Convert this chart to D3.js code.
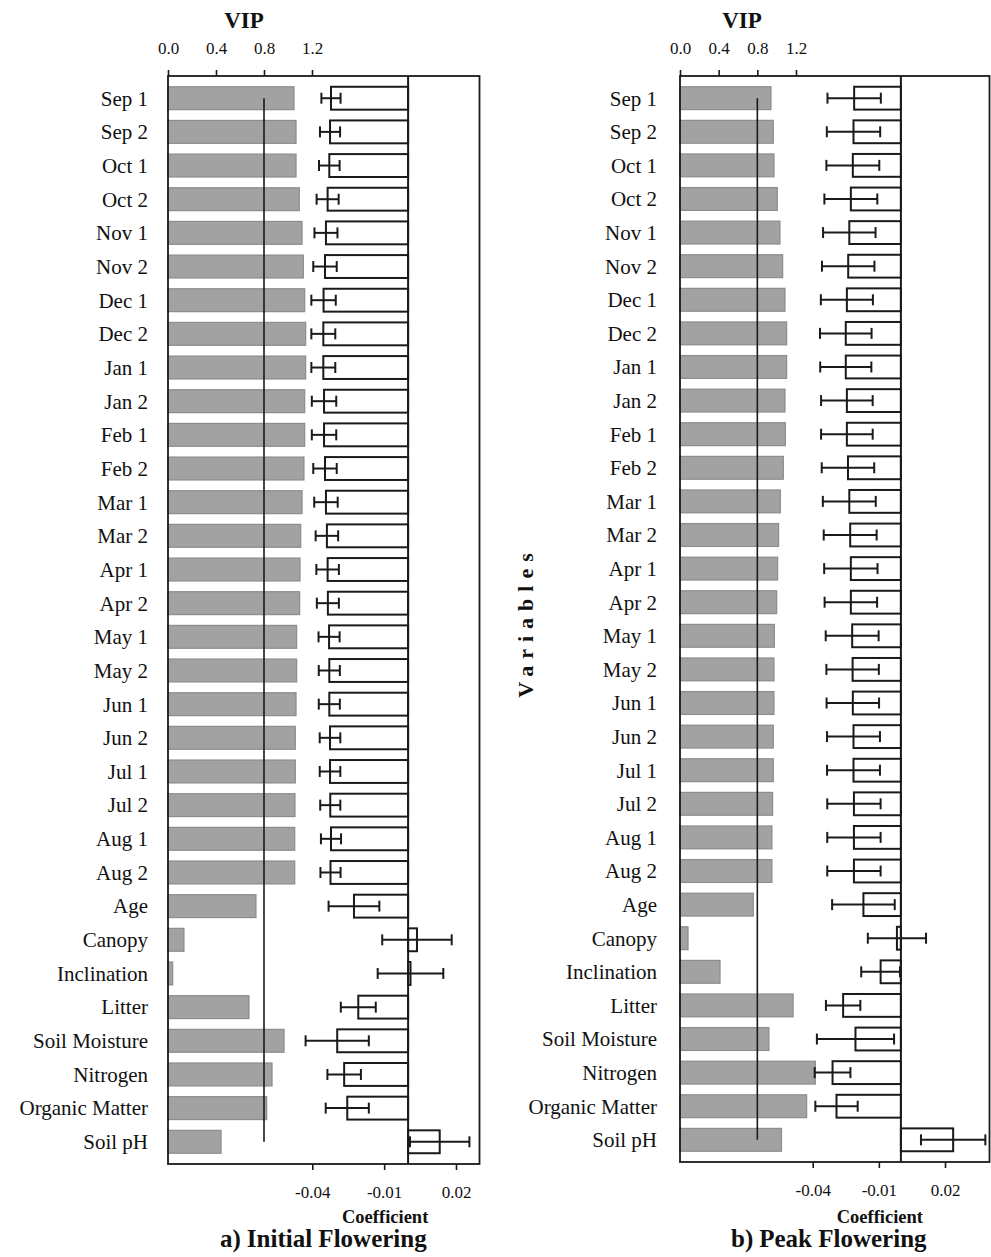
<!DOCTYPE html>
<html>
<head>
<meta charset="utf-8">
<script src="https://cdn.jsdelivr.net/npm/d3@7"></script>
<style>
  body { margin: 0; background: #fff; }
  svg { display: block; }
</style>
</head>
<body>
<svg width="991" height="1257"></svg>
<script>
// row labels, top to bottom
const labels = ["Sep 1", "Sep 2", "Oct 1", "Oct 2", "Nov 1", "Nov 2", "Dec 1", "Dec 2",
  "Jan 1", "Jan 2", "Feb 1", "Feb 2", "Mar 1", "Mar 2", "Apr 1", "Apr 2",
  "May 1", "May 2", "Jun 1", "Jun 2", "Jul 1", "Jul 2", "Aug 1", "Aug 2",
  "Age", "Canopy", "Inclination", "Litter", "Soil Moisture", "Nitrogen", "Organic Matter", "Soil pH"];

const vipTicks = [0, 0.4, 0.8, 1.2];
const coefTicks = [-0.04, -0.01, 0.02];
const vipThreshold = 0.8;

// a) Initial Flowering
const vipA = [1.05, 1.067, 1.067, 1.094, 1.117, 1.128, 1.139, 1.147, 1.147, 1.139, 1.139, 1.133,
  1.117, 1.106, 1.10, 1.097, 1.072, 1.072, 1.067, 1.061, 1.061, 1.058, 1.056, 1.056,
  0.733, 0.133, 0.039, 0.675, 0.967, 0.867, 0.822, 0.442];
const coefA = [-0.0322, -0.0326, -0.0329, -0.0336, -0.0343, -0.0347, -0.0353, -0.0354, -0.0354, -0.0351, -0.0351, -0.0347,
  -0.0343, -0.0339, -0.0336, -0.0335, -0.033, -0.0329, -0.0329, -0.0326, -0.0326, -0.0325, -0.0322, -0.0324,
  -0.0226, 0.0037, 0.001, -0.0208, -0.0296, -0.0267, -0.0254, 0.0132];
const errA = [0.0040, 0.0042, 0.0043, 0.0046, 0.0048, 0.0049, 0.0051, 0.0050, 0.0050, 0.0051, 0.0051, 0.0049,
  0.0049, 0.0047, 0.0047, 0.0046, 0.0044, 0.0044, 0.0044, 0.0043, 0.0043, 0.0042, 0.0042, 0.0042,
  0.0106, 0.0145, 0.0137, 0.0073, 0.0132, 0.0070, 0.0090, 0.0124];

// b) Peak Flowering
const vipB = [0.941, 0.965, 0.972, 1.006, 1.034, 1.062, 1.086, 1.103, 1.103, 1.086, 1.09, 1.069,
  1.038, 1.02, 1.01, 1.0, 0.976, 0.972, 0.972, 0.965, 0.965, 0.958, 0.951, 0.951,
  0.758, 0.083, 0.414, 1.17, 0.92, 1.40, 1.31, 1.05];
const coefB = [-0.0212, -0.0215, -0.0218, -0.0227, -0.0234, -0.0239, -0.0245, -0.025, -0.025, -0.0245, -0.0245, -0.024,
  -0.0234, -0.023, -0.0227, -0.0227, -0.0221, -0.0219, -0.0218, -0.0215, -0.0215, -0.0213, -0.0213, -0.0213,
  -0.017, -0.0018, -0.0092, -0.0262, -0.0206, -0.031, -0.0292, 0.0237];
const errB = [0.0121, 0.0121, 0.0120, 0.0120, 0.0119, 0.0119, 0.0118, 0.0117, 0.0116, 0.0117, 0.0117, 0.0119,
  0.0120, 0.0120, 0.0121, 0.0119, 0.0120, 0.0119, 0.0119, 0.0120, 0.0120, 0.0121, 0.0121, 0.0121,
  0.0142, 0.0132, 0.0088, 0.0078, 0.0175, 0.0081, 0.0096, 0.0146];

const SERIF = "'Liberation Serif', 'Times New Roman', serif";

const panels = [
  { tag: "a)", title: "Initial Flowering", vip: vipA, coef: coefA, err: errA,
    left: 168, right: 479.5, top: 76, bottom: 1164, vipEnd: 312, coefRange: [312.3, 456],
    labelX: 148, titleX: 220 },
  { tag: "b)", title: "Peak Flowering", vip: vipB, coef: coefB, err: errB,
    left: 680, right: 989.5, top: 76, bottom: 1162, vipEnd: 796, coefRange: [812.7, 945],
    labelX: 657, titleX: 731 }
];

const svg = d3.select("svg");

panels.forEach(p => {
  let rows = labels.map((l, i) => ({ label: l, vip: p.vip[i], coef: p.coef[i], err: p.err[i] }));

  let y = d3.scaleBand().domain(labels).range([p.top, p.bottom]).padding(0.32);
  let xv = d3.scaleLinear().domain([0, 1.2]).range([p.left, p.vipEnd]);
  let xc = d3.scaleLinear().domain([-0.04, 0.02]).range(p.coefRange);
  let g = svg.append("g");

  // VIP bars
  g.selectAll(".vip").data(rows).enter().append("rect")
    .attr("x", xv(0))
    .attr("y", d => y(d.label))
    .attr("width", d => xv(d.vip) - xv(0))
    .attr("height", y.bandwidth())
    .attr("fill", "#a2a2a2")
    .attr("stroke", "#8c8c8c")
    .attr("stroke-width", 1.2);

  // coefficient bars
  g.selectAll(".coef").data(rows).enter().append("rect")
    .attr("x", d => Math.min(xc(d.coef), xc(0)))
    .attr("y", d => y(d.label))
    .attr("width", d => Math.abs(xc(d.coef) - xc(0)))
    .attr("height", y.bandwidth())
    .attr("fill", "#fff")
    .attr("stroke", "#1a1a1a")
    .attr("stroke-width", 2);

  // error bars
  let eb = g.selectAll(".err").data(rows).enter().append("g")
    .attr("stroke", "#1a1a1a").attr("stroke-width", 2);
  eb.append("line")
    .attr("x1", d => xc(d.coef - d.err)).attr("x2", d => xc(d.coef + d.err))
    .attr("y1", d => y(d.label) + y.bandwidth() / 2).attr("y2", d => y(d.label) + y.bandwidth() / 2);
  [-1, 1].forEach(s => {
    eb.append("line")
      .attr("x1", d => xc(d.coef + s * d.err)).attr("x2", d => xc(d.coef + s * d.err))
      .attr("y1", d => y(d.label) + y.bandwidth() / 2 - 5.5)
      .attr("y2", d => y(d.label) + y.bandwidth() / 2 + 5.5);
  });

  // zero line of coefficient
  g.append("line")
    .attr("x1", xc(0)).attr("x2", xc(0))
    .attr("y1", p.top).attr("y2", p.bottom)
    .attr("stroke", "#1a1a1a").attr("stroke-width", 2);

  // VIP threshold line
  g.append("line")
    .attr("x1", xv(vipThreshold)).attr("x2", xv(vipThreshold))
    .attr("y1", y(labels[0]) + y.bandwidth() / 2)
    .attr("y2", y(labels[labels.length - 1]) + y.bandwidth() / 2)
    .attr("stroke", "#1a1a1a").attr("stroke-width", 1.6);

  // frame
  g.append("rect")
    .attr("x", p.left).attr("y", p.top)
    .attr("width", p.right - p.left).attr("height", p.bottom - p.top)
    .attr("fill", "none").attr("stroke", "#1a1a1a").attr("stroke-width", 1.8);

  // axes
  let top = g.append("g").attr("transform", "translate(0," + p.top + ")")
    .call(d3.axisTop(xv).tickValues(vipTicks).tickSize(6).tickPadding(16).tickFormat(d3.format(".1f")));
  let bot = g.append("g").attr("transform", "translate(0," + p.bottom + ")")
    .call(d3.axisBottom(xc).tickValues(coefTicks).tickSize(6).tickPadding(16).tickFormat(d => d.toFixed(2)));
  [top, bot].forEach(ax => {
    ax.select(".domain").remove();
    ax.attr("font-family", null).attr("font-size", null);
    ax.selectAll(".tick line").attr("stroke", "#1a1a1a").attr("stroke-width", 1.6);
    ax.selectAll(".tick text")
      .attr("fill", "#111")
      .style("font-family", SERIF)
      .style("font-size", "17px");
  });

  // row labels
  g.selectAll(".lbl").data(rows).enter().append("text")
    .attr("x", p.labelX)
    .attr("y", d => y(d.label) + y.bandwidth() / 2)
    .attr("dy", "0.35em")
    .attr("text-anchor", "end")
    .attr("fill", "#111")
    .style("font-family", SERIF)
    .style("font-size", "21px")
    .text(d => d.label);

  // axis titles
  g.append("text")
    .attr("x", (xv(0) + xv(1.2)) / 2 + 4).attr("y", 28)
    .attr("text-anchor", "middle").attr("fill", "#111")
    .style("font-family", SERIF).style("font-weight", "bold").style("font-size", "23px")
    .text("VIP");
  g.append("text")
    .attr("x", (xc(-0.04) + xc(0.02)) / 2 + 1).attr("y", 1223)
    .attr("text-anchor", "middle").attr("fill", "#111")
    .style("font-family", SERIF).style("font-weight", "bold").style("font-size", "18.5px")
    .text("Coefficient");

  let t = g.append("text")
    .attr("x", p.titleX).attr("y", 1247).attr("fill", "#111")
    .style("font-family", SERIF).style("font-weight", "bold").style("font-size", "25px");
  t.append("tspan").text(p.tag);
  t.append("tspan").attr("dx", 6).text(p.title);
});

svg.append("text")
  .attr("transform", "translate(533,622)rotate(-90)")
  .attr("text-anchor", "middle")
  .attr("fill", "#111")
  .style("font-family", SERIF).style("font-weight", "bold")
  .style("font-size", "22px")
  .style("letter-spacing", "7px")
  .text("Variables");
</script>
</body>
</html>
